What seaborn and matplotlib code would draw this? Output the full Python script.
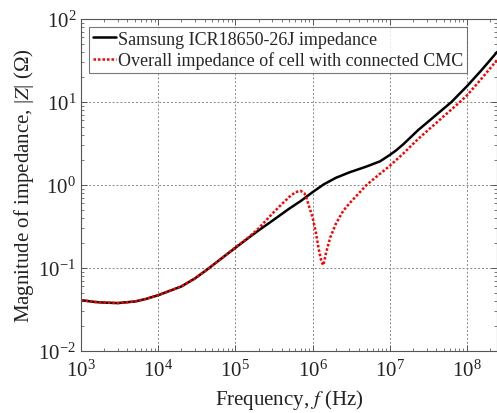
import numpy as np
import pandas as pd
import matplotlib
matplotlib.use("Agg")
import matplotlib.pyplot as plt
import seaborn as sns
from matplotlib.ticker import LogLocator, NullFormatter

# ---- data ----
freq_cell = [1e3, 1.5e3, 2e3, 3e3, 5e3, 7e3, 1e4, 2e4, 3e4, 4.45e4, 7e4,
             1e5, 1.5e5, 2e5, 3e5, 5e5, 7e5, 1e6, 1.4e6, 2e6, 3e6, 5e6, 7.5e6, 1e7,
             1.2e7, 1.5e7, 2.34e7, 4e7, 6.3e7, 1e8, 1.5e8, 2e8, 2.45e8]
z_cell = [0.041, 0.039, 0.0383, 0.0378, 0.0395, 0.0425, 0.047, 0.060, 0.075,
          0.098, 0.136, 0.175, 0.233, 0.284, 0.37, 0.52, 0.64, 0.82, 1.02, 1.22,
          1.42, 1.67, 1.93, 2.3, 2.6, 3.1, 4.6, 7.0, 10.0, 15.5, 23.5, 32.0, 40.0]

freq_cmc = [1e3, 1.5e3, 2e3, 3e3, 5e3, 7e3, 1e4, 2e4, 3e4, 4.45e4, 7e4,
            1e5, 1.5e5, 2e5, 3e5, 4e5, 5e5, 6e5, 7e5, 7.8e5, 8.3e5, 8.8e5, 1e6,
            1.1e6, 1.2e6, 1.3e6, 1.38e6, 1.5e6, 1.7e6, 2e6, 2.5e6, 3e6, 3.7e6, 5e6,
            7e6, 1e7, 1.5e7, 2.34e7, 4e7, 8.1e7, 1e8, 1.5e8, 2e8, 2.45e8]
z_cmc = [0.041, 0.039, 0.0383, 0.0378, 0.0395, 0.0425, 0.047, 0.060, 0.075,
         0.098, 0.136, 0.177, 0.236, 0.30, 0.45, 0.59, 0.72, 0.82, 0.85, 0.80,
         0.71, 0.59, 0.41, 0.27, 0.17, 0.12, 0.108, 0.155, 0.235, 0.34, 0.49, 0.60,
         0.74, 1.0, 1.3, 1.7, 2.4, 3.6, 5.6, 10.0, 12.0, 18.5, 25.5, 32.0]

label_cell = "Samsung ICR18650-26J impedance"
label_cmc = "Overall impedance of cell with connected CMC"

df = pd.concat([
    pd.DataFrame({"f": freq_cell, "z": z_cell, "s": label_cell}),
    pd.DataFrame({"f": freq_cmc, "z": z_cmc, "s": label_cmc}),
])

sns.set_style("ticks")
plt.rcParams["font.family"] = ["Liberation Serif", "DejaVu Serif"]
plt.rcParams["mathtext.fontset"] = "stix"
plt.rcParams["xtick.direction"] = "in"
plt.rcParams["ytick.direction"] = "in"

fig = plt.figure(figsize=(4.97, 4.14), dpi=100)
ax = fig.add_axes([81 / 497, 62 / 414, 416 / 497, 332 / 414])

sns.lineplot(data=df, x="f", y="z", hue="s", style="s",
             palette={label_cell: "black", label_cmc: "red"},
             dashes={label_cell: "", label_cmc: (1, 0.8)},
             linewidth=1.8, ax=ax, sort=False, estimator=None)

ax.set_xscale("log")
ax.set_yscale("log")
ax.set_xlim(1e3, 2.45e8)
ax.set_ylim(1e-2, 1e2)

ax.xaxis.set_major_locator(LogLocator(base=10, numticks=20))
ax.yaxis.set_major_locator(LogLocator(base=10, numticks=20))
ax.xaxis.set_minor_locator(LogLocator(base=10, subs=np.arange(2, 10), numticks=20))
ax.yaxis.set_minor_locator(LogLocator(base=10, subs=np.arange(2, 10), numticks=20))
ax.xaxis.set_minor_formatter(NullFormatter())
ax.yaxis.set_minor_formatter(NullFormatter())

ax.tick_params(which="both", top=True, right=True, colors="#444444",
               labelcolor="#222222", labelsize=15)
ax.tick_params(which="major", length=4, width=0.6)
ax.tick_params(which="minor", length=2.5, width=0.5)
ax.tick_params(axis="x", pad=6)

for sp in ax.spines.values():
    sp.set_color("#555555")
    sp.set_linewidth(0.8)

ax.grid(True, which="major", color="#888888", linestyle=(0, (2, 2)), linewidth=0.7)

ax.set_xlabel("Frequency, $f$ (Hz)", fontsize=15, color="#222222", labelpad=5)
ax.set_ylabel("Magnitude of impedance, |$Z$| (Ω)", fontsize=15, color="#222222", labelpad=2)

leg = ax.legend(loc="upper left", fontsize=13, frameon=True, fancybox=False,
                edgecolor="#555555", borderaxespad=0.45, handlelength=1.3,
                handletextpad=0.1, borderpad=0.2, labelspacing=0.2)
leg.get_frame().set_linewidth(0.8)
leg.set_title(None)

fig.savefig("out.png", dpi=100)
